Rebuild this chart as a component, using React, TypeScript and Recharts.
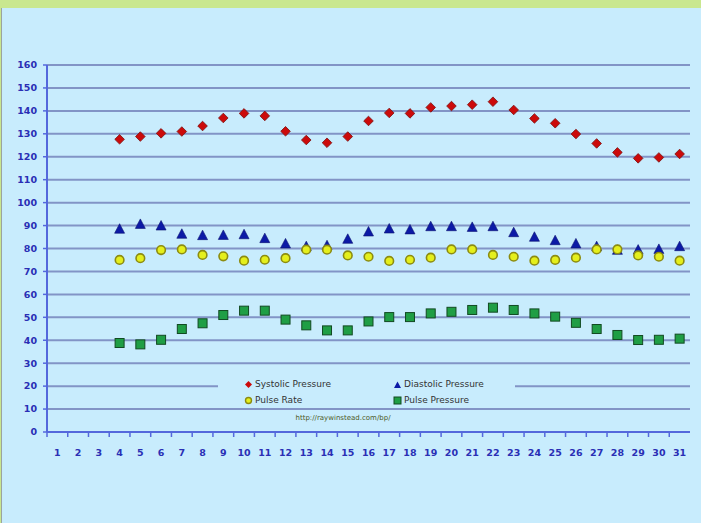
import { ComposedChart, Line, XAxis, YAxis, CartesianGrid, Legend } from "recharts"

const days = Array.from({ length: 31 }, (_, i) => i + 1)
const blank = [null, null, null]
const systolic = [
  ...blank, 127.6, 128.8, 130.2, 131, 133.4, 136.9, 138.9, 137.8, 131.1, 127.3, 126.1, 128.8, 135.6, 139.1,
  138.9, 141.5, 142.1, 142.7, 144, 140.4, 136.7, 134.6, 129.9, 125.8, 121.9, 119.3, 119.7, 121.2,
]
const diastolic = [
  ...blank, 88.4, 90.5, 89.8, 86.2, 85.6, 85.7, 86, 84.3, 82, 80.8, 81.2, 84, 87.2, 88.5,
  88.1, 89.5, 89.5, 89.2, 89.5, 86.9, 84.9, 83.4, 82, 80.8, 79.2, 79.3, 79.6, 80.8,
]
const pulseRate = [
  ...blank, 75, 75.8, 79.3, 79.6, 77.2, 76.6, 74.7, 75.1, 75.8, 79.5, 79.5, 77, 76.4, 74.6,
  75.1, 76, 79.6, 79.6, 77.2, 76.4, 74.7, 75, 76, 79.6, 79.6, 77, 76.4, 74.7,
]
const pulsePressure = [
  ...blank, 38.8, 38.2, 40.2, 44.9, 47.4, 51, 52.9, 52.9, 49, 46.5, 44.3, 44.3, 48.2, 50.1,
  50.1, 51.7, 52.4, 53.2, 54.2, 53.2, 51.7, 50.3, 47.6, 44.9, 42.3, 40.1, 40.2, 40.7,
]
const yTicks = [0, 10, 20, 30, 40, 50, 60, 70, 80, 90, 100, 110, 120, 130, 140, 150, 160]

const data = days.map((day, i) => ({
  day,
  systolic: systolic[i],
  diastolic: diastolic[i],
  pulseRate: pulseRate[i],
  pulsePressure: pulsePressure[i],
}))

const W = 701
const H = 523
const margin = { top: 65, right: 11, bottom: 61, left: 0 }
const Y_WIDTH = 47
const BAND = (W - margin.left - margin.right - Y_WIDTH) / days.length

const BG = "#c8ecfd"
const AXIS = "#5468dc"
const GRID = "#8294c6"
const LABEL = "#2a2fb5"
const FONT = "'DejaVu Sans', Verdana, sans-serif"

const ok = (p: any) => p.cx != null && p.cy != null && p.value != null && !Number.isNaN(p.cy)

const diamond = (p: any) => {
  if (!ok(p)) return <g key={p.key} />
  const { cx, cy } = p
  const r = 4.8
  return (
    <path key={p.key} d={`M${cx},${cy - r}L${cx + r},${cy}L${cx},${cy + r}L${cx - r},${cy}Z`}
      fill="#cc0a0a" stroke="#7a1010" strokeWidth={0.8} />
  )
}
const triangle = (p: any) => {
  if (!ok(p)) return <g key={p.key} />
  const { cx, cy } = p
  return (
    <path key={p.key} d={`M${cx},${cy - 5.5}L${cx + 5},${cy + 4}L${cx - 5},${cy + 4}Z`}
      fill="#0c1aa6" stroke="#0a1070" strokeWidth={0.6} />
  )
}
const circle = (p: any) => {
  if (!ok(p)) return <g key={p.key} />
  return <circle key={p.key} cx={p.cx} cy={p.cy} r={4.3} fill="#e4ef1c" stroke="#8c8c10" strokeWidth={1.6} />
}
const square = (p: any) => {
  if (!ok(p)) return <g key={p.key} />
  return (
    <rect key={p.key} x={p.cx - 4.5} y={p.cy - 4.5} width={9} height={9}
      fill="#1f9e45" stroke="#124a22" strokeWidth={1} />
  )
}

const XTick = ({ x, y, payload }: any) => (
  <g>
    <line x1={x - BAND / 2} x2={x - BAND / 2} y1={y} y2={y + 5} stroke={AXIS} strokeWidth={1.5} />
    <text x={x} y={y + 24} textAnchor="middle" fill={LABEL} fontSize={9.5} fontWeight="bold" fontFamily={FONT}>
      {payload.value}
    </text>
  </g>
)

const Mark = ({ kind }: { kind: string }) => (
  <svg width={9} height={9} style={{ verticalAlign: "middle", marginRight: 2 }}>
    {kind === "d" && <path d="M4.5,1L8,4.5L4.5,8L1,4.5Z" fill="#cc0a0a" />}
    {kind === "t" && <path d="M4.5,1.5L8,8L1,8Z" fill="#0c1aa6" />}
    {kind === "c" && <circle cx={4.5} cy={4.5} r={3} fill="#e4ef1c" stroke="#8c8c10" strokeWidth={1.4} />}
    {kind === "s" && <rect x={1} y={1} width={7} height={7} fill="#1f9e45" stroke="#124a22" strokeWidth={1} />}
  </svg>
)

const LegendBox = () => {
  const item = (kind: string, label: string, left: number, top: number) => (
    <div style={{ position: "absolute", left, top, whiteSpace: "nowrap", lineHeight: "11px" }}>
      <Mark kind={kind} />
      <span style={{ verticalAlign: "middle" }}>{label}</span>
    </div>
  )
  return (
    <div style={{ position: "relative", width: 297, height: 50, fontFamily: FONT, fontSize: 9, color: "#333" }}>
      <div style={{ position: "absolute", left: 0, top: 0, width: 297, height: 30, background: BG }}>
        {item("d", "Systolic Pressure", 26, 3)}
        {item("t", "Diastolic Pressure", 175, 3)}
        {item("c", "Pulse Rate", 26, 19)}
        {item("s", "Pulse Pressure", 175, 19)}
      </div>
      <div style={{ position: "absolute", left: 0, top: 38, width: 250, textAlign: "center", fontSize: 7, color: "#4d5a1e" }}>
        http://raywinstead.com/bp/
      </div>
    </div>
  )
}

export default function App() {
  return (
    <div style={{ position: "absolute", left: 0, top: 0, width: W, height: H, background: "#c9e78f", overflow: "hidden" }}>
      <div style={{ position: "absolute", left: 1, top: 8, right: 0, bottom: 0, background: BG, borderLeft: "1px solid #9aa4a0" }} />
      <div style={{ position: "absolute", left: 0, top: 0 }}>
        <ComposedChart width={W} height={H} data={data} margin={margin}>
          <CartesianGrid vertical={false} stroke={GRID} strokeWidth={2} />
          <XAxis dataKey="day" height={30} tickSize={0} tickMargin={0} tickLine={false} interval={0}
            padding={{ left: BAND / 2, right: BAND / 2 }}
            axisLine={{ stroke: AXIS, strokeWidth: 2 }} tick={<XTick />} />
          <YAxis width={Y_WIDTH} domain={[0, 160]} ticks={yTicks} interval={0} tickSize={4} tickMargin={6}
            axisLine={{ stroke: AXIS, strokeWidth: 2 }} tickLine={{ stroke: AXIS, strokeWidth: 1.5 }}
            tick={{ fill: LABEL, fontSize: 9.5, fontWeight: "bold", fontFamily: FONT }} />
          <YAxis yAxisId="border" orientation="right" width={0} domain={[0, 160]} tick={false} tickLine={false}
            axisLine={{ stroke: AXIS, strokeWidth: 2 }} />
          <Legend content={<LegendBox />} verticalAlign="middle" align="center"
            wrapperStyle={{ left: 218, top: 376, width: 297, height: 50 }} />
          <Line dataKey="systolic" name="Systolic Pressure" stroke="none" dot={diamond} activeDot={false} isAnimationActive={false} />
          <Line dataKey="diastolic" name="Diastolic Pressure" stroke="none" dot={triangle} activeDot={false} isAnimationActive={false} />
          <Line dataKey="pulseRate" name="Pulse Rate" stroke="none" dot={circle} activeDot={false} isAnimationActive={false} />
          <Line dataKey="pulsePressure" name="Pulse Pressure" stroke="none" dot={square} activeDot={false} isAnimationActive={false} />
        </ComposedChart>
      </div>
    </div>
  )
}
